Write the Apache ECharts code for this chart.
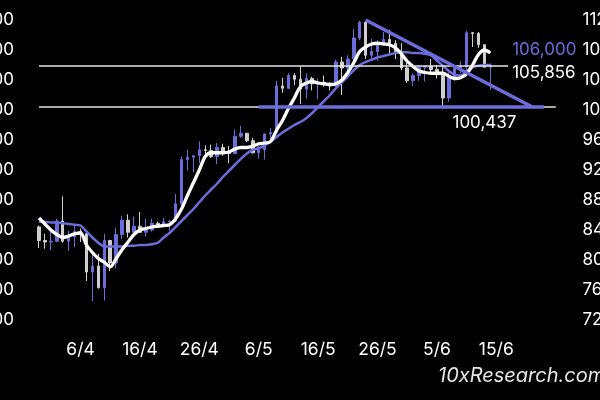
<!DOCTYPE html>
<html>
<head>
<meta charset="utf-8">
<script src="https://cdn.jsdelivr.net/npm/echarts@6/dist/echarts.min.js"></script>
<style>
html,body{margin:0;padding:0;background:#000;}
#chart{width:600px;height:400px;}
</style>
</head>
<body>
<div id="chart"></div>
<script>
// ---- DATA ----
const categories = [
 '30/3','31/3',
 '1/4','2/4','3/4','4/4','5/4','6/4','7/4','8/4','9/4','10/4','11/4','12/4','13/4','14/4','15/4','16/4','17/4','18/4','19/4','20/4','21/4','22/4','23/4','24/4','25/4','26/4','27/4','28/4','29/4','30/4',
 '1/5','2/5','3/5','4/5','5/5','6/5','7/5','8/5','9/5','10/5','11/5','12/5','13/5','14/5','15/5','16/5','17/5','18/5','19/5','20/5','21/5','22/5','23/5','24/5','25/5','26/5','27/5','28/5','29/5','30/5','31/5',
 '1/6','2/6','3/6','4/6','5/6','6/6','7/6','8/6','9/6','10/6','11/6','12/6','13/6','14/6','15/6','16/6','17/6','18/6','19/6','20/6','21/6','22/6','23/6','24/6','25/6','26/6','27/6','28/6'
];
const tickLabels = ['6/4','16/4','26/4','6/5','16/5','26/5','5/6','15/6'];
const yTicks = { min: 72000, max: 112000, step: 4000 };

// candles: [open, close, low, high]
const candles = [
 [84400,82600,81600,84600],[82600,82400,81500,83500],[82400,82500,81300,83900],[82500,85200,82400,85500],
 [85200,82500,82300,88500],[82500,83100,81200,83900],[83100,83800,81700,84700],[83800,83500,82400,84200],
 [83500,78400,77200,83800],[78400,79200,74500,81200],[79200,76300,76200,80800],[76300,82600,74600,83500],
 [82600,79600,78500,82700],[79600,83400,78900,84300],[83400,85300,82800,85900],[85300,83700,83000,86100],
 [83700,84500,83700,85800],[84500,83700,83600,86400],[83700,84000,83100,85500],[84000,84900,83800,85500],
 [84900,84500,84300,85100],[84500,85100,84400,85600],[85100,85200,83900,85300],[85200,87500,85100,88800],
 [87500,93400,87000,93800],[93400,93700,91900,94700],[93700,93900,91700,94000],[93900,94700,92900,95800],
 [94700,94600,93900,95300],[94600,93800,93600,95400],[93800,95000,92800,95600],[95000,94300,93900,95500],
 [94300,94200,92900,95200],[94200,96500,94100,97400],[96500,96900,96300,97900],[96900,95900,95700,96900],
 [95900,94300,94200,96300],[94300,94700,93500,95200],[94700,96800,93400,96900],[96800,97000,95800,97600],
 [97000,103200,96900,103900],[103200,102900,102300,104300],[102900,104600,102800,104900],[104600,104100,103300,104900],
 [104100,102800,100800,105800],[102800,104200,101500,104900],[104200,103500,102600,104400],[103500,103700,101400,104200],
 [103700,103500,103100,104600],[103500,103200,102600,103700],[103200,106400,103100,106700],[106400,105600,102000,107100],
 [105600,106800,104200,107300],[106800,109600,106100,110800],[109600,111700,109300,111900],[111700,107300,106800,111800],
 [107300,107800,106900,109500],[107800,109000,106600,109300],[109000,109400,108700,110400],[109400,108900,107500,110700],
 [108900,107800,106800,109300],[107800,105600,105300,108900],[105600,103900,103600,106300],[103900,104600,103200,104900],
 [104600,105700,103900,105900],[105700,105800,103800,105900],[105800,105400,104900,106800],[105400,104700,104200,106000],
 [104700,101600,100437,105900],[101600,104300,101100,105000],[104300,105600,103900,105900],[105600,105800,104900,106500],
 [105800,110300,105300,110600],[110300,110200,108400,110400],[110200,108700,108300,110400],[108700,105700,105700,108800],
 [105700,106000,102700,106200]
];

// short moving average (white) and long moving average (blue)
const maShort = [
 85600,84800,84000,83400,83000,83200,83500,83600,82000,81000,80200,79700,79100,80200,81400,82400,
 83400,84000,84200,84400,84500,84600,84700,85500,86800,88600,90300,92000,93800,94300,94300,94300,
 94400,94800,95000,95000,95200,95500,95600,95800,97300,98600,100200,101600,103100,103600,103800,103600,
 103500,103400,103500,104000,105000,106300,107800,108400,108800,108900,108800,108700,108300,107500,106500,105800,
 105200,105000,104900,104900,104900,104500,104200,104300,104800,106000,107400,108000,107600
];
const maLong = [
 85100,85100,85000,85000,84900,84800,84700,84600,83800,83000,82300,81800,81800,81800,81800,81900,
 81900,82000,82000,82100,82300,83000,83600,84400,85200,86000,86800,87700,88600,89400,90200,91100,
 91900,92700,93500,94200,94700,94900,95300,95800,96400,97000,97500,98000,98400,98900,99600,100400,
 101200,102000,102900,103700,104500,105300,106000,106400,106700,107000,107200,107400,107600,107700,107700,107600,
 107600,107500,107300,106600,105900,105200,104700,104600,105200,105700,105900,106000,106000
];

// levels & trendline
const levelUpper = { value: 105856, from: '30/3', to: '17/6', label: '105,856', labelAt: '17/6' };
const levelLower = { value: 100437, from: '30/3', to: '25/6', label: '100,437', labelAt: '13/6' };
const supportBlue = { value: 100437, from: '6/5', to: '23/6' };
const trendLine = { from: ['24/5', 112000], to: ['21/6', 100437] };
const maLastLabel = { value: 106000, label: '106,000', at: '17/6' };

// ---- CHART ----
const BLUE = '#6b6ddb';
const GRAY = '#cfcfcf';
const FONT = 'Inter';
const fmt = v => Number(v).toLocaleString('en-US');

const chart = echarts.init(document.getElementById('chart'));
const yCommon = {
  type: 'value', min: yTicks.min, max: yTicks.max, interval: yTicks.step,
  splitLine: { show: false }, axisLine: { show: false }, axisTick: { show: false }
};
chart.setOption({
  backgroundColor: '#000',
  animation: false,
  grid: { left: 36, right: 23.5, top: 20, bottom: 80, containLabel: false, outerBoundsMode: 'none' },
  xAxis: {
    type: 'category', data: categories, boundaryGap: true,
    axisLine: { show: false }, axisTick: { show: false }, splitLine: { show: false },
    axisLabel: {
      interval: (i, v) => tickLabels.indexOf(v) >= 0,
      color: '#ffffff', fontSize: 17.5, fontFamily: FONT, margin: 21
    }
  },
  yAxis: [
    Object.assign({}, yCommon, { position: 'left',
      axisLabel: { formatter: fmt, color: '#ffffff', fontSize: 17, fontFamily: FONT, margin: 22 } }),
    Object.assign({}, yCommon, { position: 'right',
      axisLabel: { formatter: fmt, color: '#ffffff', fontSize: 17, fontFamily: FONT, margin: 6 } })
  ],
  graphic: [{
    type: 'text', left: 438, top: 366,
    style: { text: '10xResearch.com', fill: '#e6e6e6', font: 'italic 20px Inter' }
  }],
  series: [
    {
      type: 'line', data: [], z: 1, silent: true,
      markLine: {
        symbol: 'none', silent: true, label: { show: false },
        lineStyle: { color: '#e4e4e4', width: 1.6, type: 'solid' },
        data: [
          [{ coord: [levelUpper.from, levelUpper.value] }, { coord: [levelUpper.to, levelUpper.value] }],
          [{ coord: [levelLower.from, levelLower.value] }, { coord: [levelLower.to, levelLower.value] }]
        ]
      }
    },
    {
      type: 'candlestick', data: candles, z: 2, barWidth: 3,
      itemStyle: { color: BLUE, color0: GRAY, borderColor: BLUE, borderColor0: GRAY, borderWidth: 1 }
    },
    {
      type: 'line', data: maLong, z: 3, smooth: 0.3, symbol: 'none',
      lineStyle: { color: BLUE, width: 2.5 }
    },
    {
      type: 'line', data: maShort, z: 4, smooth: 0.3, symbol: 'none',
      lineStyle: { color: '#ffffff', width: 3.3 }
    },
    {
      type: 'line', data: [], z: 5, silent: true,
      markLine: {
        symbol: 'none', silent: true, label: { show: false },
        lineStyle: { color: BLUE, width: 3.5, type: 'solid' },
        data: [
          [{ coord: [supportBlue.from, supportBlue.value] }, { coord: [supportBlue.to, supportBlue.value] }],
          [{ coord: trendLine.from }, { coord: trendLine.to }]
        ]
      },
      markPoint: {
        symbol: 'circle', symbolSize: 0, silent: true,
        data: [
          { coord: [maLastLabel.at, maLastLabel.value],
            label: { show: true, formatter: maLastLabel.label, position: 'right', distance: 4, offset: [0, -15],
                     color: BLUE, fontSize: 17, fontFamily: FONT } },
          { coord: [levelUpper.labelAt, levelUpper.value],
            label: { show: true, formatter: levelUpper.label, position: 'right', distance: 4, offset: [0, 7],
                     color: '#ffffff', fontSize: 17, fontFamily: FONT } },
          { coord: [levelLower.labelAt, levelLower.value],
            label: { show: true, formatter: levelLower.label, position: 'bottom', distance: 8,
                     color: '#ffffff', fontSize: 17, fontFamily: FONT } }
        ]
      }
    }
  ]
});
</script>
</body>
</html>
